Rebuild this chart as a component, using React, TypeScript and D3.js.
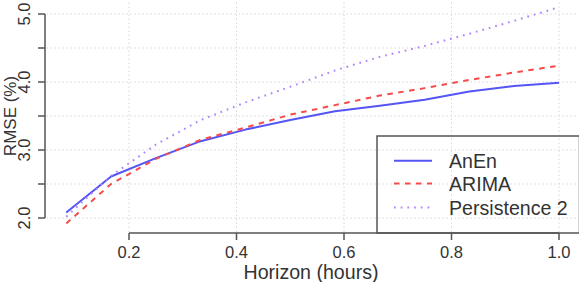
import React from "react";
import * as d3 from "d3";

const horizons = [1, 2, 3, 4, 5, 6, 7, 8, 9, 10, 11, 12].map((k) => k / 12);
const anen = [2.08, 2.61, 2.88, 3.13, 3.3, 3.44, 3.57, 3.65, 3.74, 3.86, 3.94, 3.99];
const arima = [1.92, 2.5, 2.87, 3.15, 3.33, 3.52, 3.66, 3.8, 3.91, 4.03, 4.14, 4.24];
const persistence = [2.02, 2.62, 3.08, 3.44, 3.7, 3.93, 4.17, 4.37, 4.53, 4.71, 4.9, 5.1];
const xTicks = [0.2, 0.4, 0.6, 0.8, 1.0];
const yTicks = [2.0, 2.5, 3.0, 3.5, 4.0, 4.5, 5.0];
const yLabels = [2.0, 3.0, 4.0, 5.0];
const seriesNames = ["AnEn", "ARIMA", "Persistence 2"];

const W = 579;
const H = 282;
const FONT = "'Liberation Sans', Arial, Helvetica, sans-serif";

export default function App() {
  const x = d3.scaleLinear().domain([0.2, 1.0]).range([129, 559]);
  const y = d3.scaleLinear().domain([2, 5]).range([218, 14]);
  const plotLeft = 46.5;
  const plotRight = 579;
  const plotTop = -1.5;
  const plotBottom = 233;

  const line = d3
    .line<number>()
    .x((_, i) => x(horizons[i]))
    .y((d) => y(d));

  const series = [
    { name: seriesNames[0], values: anen, color: "rgb(85,85,245)", dash: undefined, w: 2 },
    { name: seriesNames[1], values: arima, color: "rgb(245,75,75)", dash: "5.5,5.5", w: 2 },
    { name: seriesNames[2], values: persistence, color: "rgb(175,130,255)", dash: "1.7,5", w: 2 },
  ];

  const axisColor = "#555";
  const gridColor = "#d8d8d8";
  const textColor = "#333";

  const legX = 377;
  const legY = 136;
  const legRows = [160.7, 183.5, 207.5];

  return (
    <svg
      width={W}
      height={H}
      style={{ position: "absolute", left: 0, top: 0, background: "#fff" }}
      fontFamily={FONT}
    >
      <rect x={0} y={0} width={W} height={H} fill="#fff" />
      {/* grid */}
      {xTicks.map((t) => (
        <line
          key={"gx" + t}
          x1={x(t)}
          x2={x(t)}
          y1={plotTop}
          y2={plotBottom}
          stroke={gridColor}
          strokeWidth={1}
          strokeDasharray="1.5,2.5"
        />
      ))}
      {yTicks.map((t) => (
        <line
          key={"gy" + t}
          x1={plotLeft}
          x2={plotRight}
          y1={y(t)}
          y2={y(t)}
          stroke={gridColor}
          strokeWidth={1}
          strokeDasharray="1.5,2.5"
        />
      ))}
      {/* series */}
      {series.map((s) => (
        <path
          key={s.name}
          d={line(s.values) || ""}
          fill="none"
          stroke={s.color}
          strokeWidth={s.w}
          strokeDasharray={s.dash}
          strokeLinejoin="round"
        />
      ))}
      {/* y axis */}
      <line x1={45} x2={45} y1={y(2)} y2={y(5)} stroke={axisColor} strokeWidth={1.5} />
      {yTicks.map((t) => (
        <line key={"yt" + t} x1={38} x2={45} y1={y(t)} y2={y(t)} stroke={axisColor} strokeWidth={1.5} />
      ))}
      {yLabels.map((t) => (
        <text
          key={"yl" + t}
          transform={`translate(30,${y(t)}) rotate(-90)`}
          textAnchor="middle"
          fontSize={16.5}
          fill={textColor}
        >
          {t.toFixed(1)}
        </text>
      ))}
      <text
        transform={`translate(16,116) rotate(-90)`}
        textAnchor="middle"
        fontSize={17}
        fill={textColor}
      >
        RMSE (%)
      </text>
      {/* x axis */}
      <line x1={x(0.2)} x2={x(1.0)} y1={233} y2={233} stroke={axisColor} strokeWidth={1.5} />
      {xTicks.map((t) => (
        <line key={"xt" + t} x1={x(t)} x2={x(t)} y1={233} y2={240} stroke={axisColor} strokeWidth={1.5} />
      ))}
      {xTicks.map((t) => (
        <text key={"xl" + t} x={x(t)} y={258} textAnchor="middle" fontSize={16.5} fill={textColor}>
          {t.toFixed(1)}
        </text>
      ))}
      <text x={311} y={279} textAnchor="middle" fontSize={19.6} fill={textColor}>
        Horizon (hours)
      </text>
      {/* legend */}
      <rect
        x={legX}
        y={legY}
        width={579.5 - legX}
        height={233 - legY}
        fill="none"
        stroke={axisColor}
        strokeWidth={1.5}
      />
      {series.map((s, i) => (
        <g key={"leg" + s.name}>
          <line
            x1={394}
            x2={432}
            y1={legRows[i]}
            y2={legRows[i]}
            stroke={s.color}
            strokeWidth={s.w}
            strokeDasharray={s.dash}
          />
          <text x={449} y={legRows[i] + 7} fontSize={19.6} fill={textColor}>
            {s.name}
          </text>
        </g>
      ))}
    </svg>
  );
}
